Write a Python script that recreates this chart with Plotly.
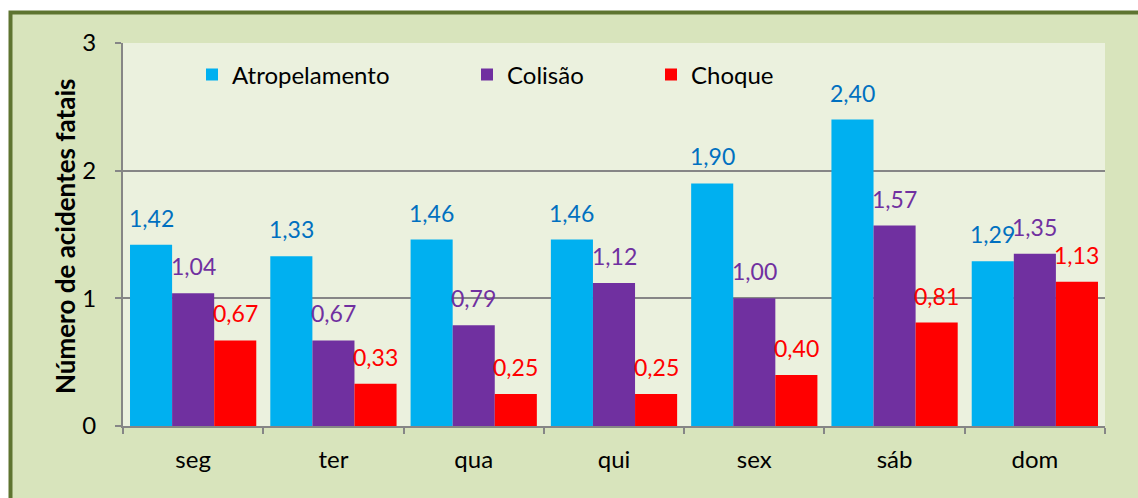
import plotly.graph_objects as go

days = ["seg", "ter", "qua", "qui", "sex", "sáb", "dom"]
atropelamento = [1.42, 1.33, 1.46, 1.46, 1.90, 2.40, 1.29]
colisao = [1.04, 0.67, 0.79, 1.12, 1.00, 1.57, 1.35]
choque = [0.67, 0.33, 0.25, 0.25, 0.40, 0.81, 1.13]
series_names = ["Atropelamento", "Colisão", "Choque"]
y_ticks = [0, 1, 2, 3]
y_title = "Número de acidentes fatais"

bar_colors = ["#00B0F0", "#7030A0", "#FF0000"]
label_colors = ["#0070C0", "#7030A0", "#FF0000"]
FONT = "Lato, Calibri, Carlito, sans-serif"

W, H = 1138, 498
ML, MR, MT, MB = 123, 33, 43, 72
PW = W - ML - MR
PH = H - MT - MB

def px_x(px):
    return (px - ML) / PW

def px_y(py):
    return (H - MB - py) / PH

fig = go.Figure()
legend_ids = ["legend", "legend2", "legend3"]
all_vals = [atropelamento, colisao, choque]
for i, (name, vals) in enumerate(zip(series_names, all_vals)):
    fig.add_trace(go.Bar(
        x=days, y=vals, name=name,
        marker=dict(color=bar_colors[i], line=dict(width=0)),
        legend=legend_ids[i],
    ))

# data labels
bar_w = PW / len(days) * 0.9 / 3
annotations = []
for i, vals in enumerate(all_vals):
    for d, v in zip(days, vals):
        annotations.append(dict(
            x=d, y=v, xref="x", yref="y",
            text=f"{v:.2f}".replace(".", ","),
            showarrow=False, xshift=(i - 1) * bar_w, yshift=11,
            yanchor="bottom", xanchor="center",
            font=dict(family=FONT, size=23, color=label_colors[i]),
        ))

# y-axis title
annotations.append(dict(
    x=px_x(65), y=px_y(237), xref="paper", yref="paper",
    text=f"<b>{y_title}</b>", textangle=-90, showarrow=False,
    xanchor="center", yanchor="middle",
    font=dict(family=FONT, size=26, color="#000000"),
))

shapes = [
    dict(type="rect", xref="paper", yref="paper",
         x0=px_x(10.5), x1=px_x(1300), y0=px_y(700), y1=px_y(12.5),
         fillcolor="#D8E4BC", line=dict(color="#5E7430", width=4), layer="below"),
    dict(type="rect", xref="paper", yref="paper",
         x0=0, x1=1, y0=0, y1=1,
         fillcolor="#EBF1DE", line=dict(width=0), layer="below"),
]

legend_common = dict(orientation="h", yanchor="middle", xanchor="left",
                     bgcolor="rgba(0,0,0,0)", borderwidth=0,
                     font=dict(family=FONT, size=24, color="#000000"))
lx = [192, 467, 651]
fig.update_layout(
    width=W, height=H,
    margin=dict(l=ML, r=MR, t=MT, b=MB, pad=0),
    paper_bgcolor="#FFFFFF", plot_bgcolor="rgba(0,0,0,0)",
    barmode="group", bargap=0.1, bargroupgap=0,
    showlegend=True,
    legend=dict(x=px_x(lx[0]), y=px_y(75), **legend_common),
    legend2=dict(x=px_x(lx[1]), y=px_y(75), **legend_common),
    legend3=dict(x=px_x(lx[2]), y=px_y(75), **legend_common),
    shapes=shapes,
    annotations=annotations,
    font=dict(family=FONT, size=24, color="#000000"),
)
fig.update_xaxes(
    type="category", tickson="boundaries", ticks="outside", ticklen=6,
    tickcolor="#868686", tickwidth=2, showline=True, linecolor="#868686",
    linewidth=2, showgrid=False, ticklabelstandoff=11,
    tickfont=dict(family=FONT, size=24, color="#000000"),
)
fig.update_yaxes(
    range=[0, 3], tickvals=y_ticks, ticktext=[str(t) for t in y_ticks],
    ticks="outside", ticklen=6, tickcolor="#868686", tickwidth=2,
    showline=True, linecolor="#868686", linewidth=2,
    showgrid=True, gridcolor="#868686", gridwidth=2, zeroline=False,
    ticklabelstandoff=14,
    tickfont=dict(family=FONT, size=24, color="#000000"),
)
fig.write_html("out.html", config={"displayModeBar": False},
               post_script="document.body.style.margin='0px';document.body.style.overflow='hidden';")
